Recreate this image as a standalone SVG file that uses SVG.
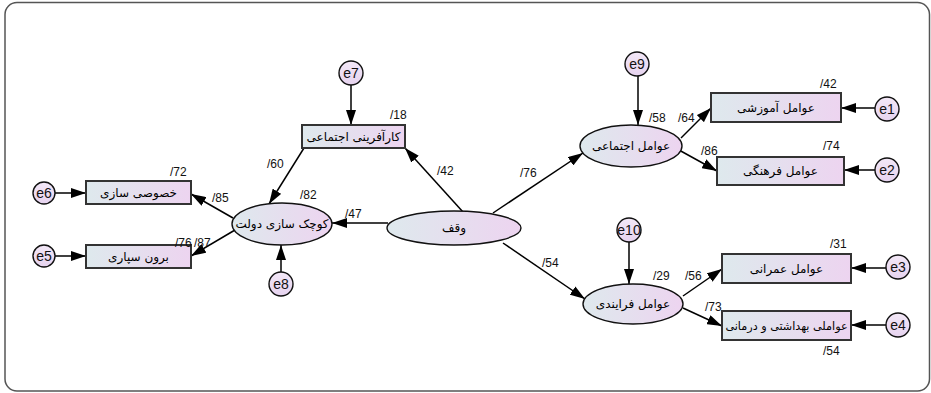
<svg xmlns="http://www.w3.org/2000/svg" width="931" height="393" viewBox="0 0 931 393">
<defs>
<linearGradient id="g" x1="0" y1="0" x2="1" y2="0">
<stop offset="0" stop-color="#dee9ed"/>
<stop offset="1" stop-color="#edd4f0"/>
</linearGradient>
<linearGradient id="ge" x1="0" y1="0" x2="0" y2="1">
<stop offset="0" stop-color="#f3e8f7"/>
<stop offset="1" stop-color="#e6d3ef"/>
</linearGradient>
<marker id="ah" markerUnits="userSpaceOnUse" markerWidth="15" markerHeight="10" refX="15" refY="5" orient="auto">
<path d="M0,0 L15,5 L0,10 z" fill="#000"/>
</marker>
</defs>
<style>
.box{fill:url(#g);stroke:#333;stroke-width:2}
.lat{fill:url(#g);stroke:#111;stroke-width:1.4}
.err{fill:url(#ge);stroke:#111;stroke-width:1.4}
.fa{font-family:"DejaVu Sans",sans-serif;font-size:12px;fill:#000;text-anchor:middle}
.en{font-family:"Liberation Sans",Arial,sans-serif;font-size:14px;fill:#111;text-anchor:middle}
.lb{font-family:"Liberation Sans",Arial,sans-serif;font-size:12px;fill:#111}
.c{stroke:#000;stroke-width:1.5;fill:none;marker-end:url(#ah)}
</style>
<rect x="5" y="2.5" width="924.5" height="388.5" rx="12" fill="#fff" stroke="#555" stroke-width="1.5"/>
<g id="connectors">
<line class="c" x1="55" y1="193" x2="86" y2="193"/>
<line class="c" x1="55" y1="256" x2="86" y2="256"/>
<line class="c" x1="233" y1="218" x2="191" y2="194"/>
<line class="c" x1="235" y1="230" x2="191" y2="256"/>
<line class="c" x1="281" y1="272" x2="281" y2="245"/>
<line class="c" x1="304" y1="148" x2="269" y2="204"/>
<line class="c" x1="351" y1="85" x2="351" y2="125"/>
<line class="c" x1="388" y1="223" x2="332" y2="223"/>
<line class="c" x1="463" y1="212" x2="405" y2="148"/>
<line class="c" x1="493" y1="213" x2="583" y2="153"/>
<line class="c" x1="503" y1="243" x2="585" y2="299"/>
<line class="c" x1="638" y1="76" x2="638" y2="125"/>
<line class="c" x1="681" y1="138" x2="711" y2="108"/>
<line class="c" x1="679" y1="150" x2="717" y2="171"/>
<line class="c" x1="875" y1="108" x2="841" y2="108"/>
<line class="c" x1="875" y1="170" x2="844" y2="170"/>
<line class="c" x1="629" y1="242" x2="629" y2="284"/>
<line class="c" x1="683" y1="296" x2="722" y2="269"/>
<line class="c" x1="683" y1="308" x2="722" y2="326"/>
<line class="c" x1="886" y1="268" x2="851" y2="268"/>
<line class="c" x1="886" y1="325" x2="851" y2="325"/>
</g>
<g id="n-waqf"><ellipse class="lat" cx="454" cy="228" rx="67" ry="17"/><text class="fa" x="454" y="232">وقف</text></g>
<g id="n-koochak"><ellipse class="lat" cx="282" cy="224" rx="50" ry="21"/><text class="fa" x="282" y="228">کوچک سازی دولت</text></g>
<g id="n-ejtemai"><ellipse class="lat" cx="631" cy="146" rx="51" ry="21"/><text class="fa" x="631" y="150">عوامل اجتماعی</text></g>
<g id="n-farayandi"><ellipse class="lat" cx="633" cy="304" rx="50" ry="20"/><text class="fa" x="633" y="308">عوامل فرایندی</text></g>
<g id="n-karafarini"><rect class="box" x="302" y="125" width="103" height="23"/><text class="fa" x="353.5" y="141">کارآفرینی اجتماعی</text></g>
<g id="n-khosoosi"><rect class="box" x="86" y="181" width="105" height="23"/><text class="fa" x="138.5" y="197">خصوصی سازی</text></g>
<g id="n-boroon"><rect class="box" x="86" y="245" width="105" height="23"/><text class="fa" x="138.5" y="261">برون سپاری</text></g>
<g id="n-amoozeshi"><rect class="box" x="711" y="93" width="130" height="29"/><text class="fa" x="776" y="112">عوامل آموزشی</text></g>
<g id="n-farhangi"><rect class="box" x="717" y="157" width="127" height="28"/><text class="fa" x="780.5" y="175">عوامل فرهنگی</text></g>
<g id="n-omrani"><rect class="box" x="722" y="254" width="129" height="29"/><text class="fa" x="786.5" y="273">عوامل عمرانی</text></g>
<g id="n-behdashti"><rect class="box" x="722" y="311" width="129" height="29"/><text class="fa" x="786.5" y="330" style="font-size:11.2px">عواملی بهداشتی و درمانی</text></g>
<g id="n-e1"><circle class="err" cx="887" cy="109" r="12"/><text class="en" x="887" y="114">e1</text></g>
<g id="n-e2"><circle class="err" cx="887" cy="170" r="12"/><text class="en" x="887" y="175">e2</text></g>
<g id="n-e3"><circle class="err" cx="898" cy="267" r="12"/><text class="en" x="898" y="272">e3</text></g>
<g id="n-e4"><circle class="err" cx="898" cy="325" r="12"/><text class="en" x="898" y="330">e4</text></g>
<g id="n-e5"><circle class="err" cx="44" cy="256" r="11"/><text class="en" x="44" y="261">e5</text></g>
<g id="n-e6"><circle class="err" cx="44" cy="193" r="11"/><text class="en" x="44" y="198">e6</text></g>
<g id="n-e7"><circle class="err" cx="351" cy="73" r="12"/><text class="en" x="351" y="78">e7</text></g>
<g id="n-e8"><circle class="err" cx="281" cy="284" r="12"/><text class="en" x="281" y="289">e8</text></g>
<g id="n-e9"><circle class="err" cx="637" cy="64" r="12"/><text class="en" x="637" y="69">e9</text></g>
<g id="n-e10"><circle class="err" cx="629" cy="230" r="12"/><text class="en" x="629" y="235">e10</text></g>
<g id="labels">
<text class="lb" x="170" y="176">/72</text>
<text class="lb" x="212" y="202">/85</text>
<text class="lb" x="194" y="247">/87</text>
<text class="lb" x="175" y="247">/76</text>
<text class="lb" x="300" y="199">/82</text>
<text class="lb" x="267" y="168">/60</text>
<text class="lb" x="390" y="119">/18</text>
<text class="lb" x="437" y="175">/42</text>
<text class="lb" x="345" y="218">/47</text>
<text class="lb" x="820" y="88">/42</text>
<text class="lb" x="649" y="122">/58</text>
<text class="lb" x="678" y="122">/64</text>
<text class="lb" x="701" y="155">/86</text>
<text class="lb" x="823" y="150">/74</text>
<text class="lb" x="520" y="177">/76</text>
<text class="lb" x="542" y="267">/54</text>
<text class="lb" x="653" y="280">/29</text>
<text class="lb" x="685" y="280">/56</text>
<text class="lb" x="705" y="311">/73</text>
<text class="lb" x="830" y="248">/31</text>
<text class="lb" x="823" y="355">/54</text>
</g>
</svg>
